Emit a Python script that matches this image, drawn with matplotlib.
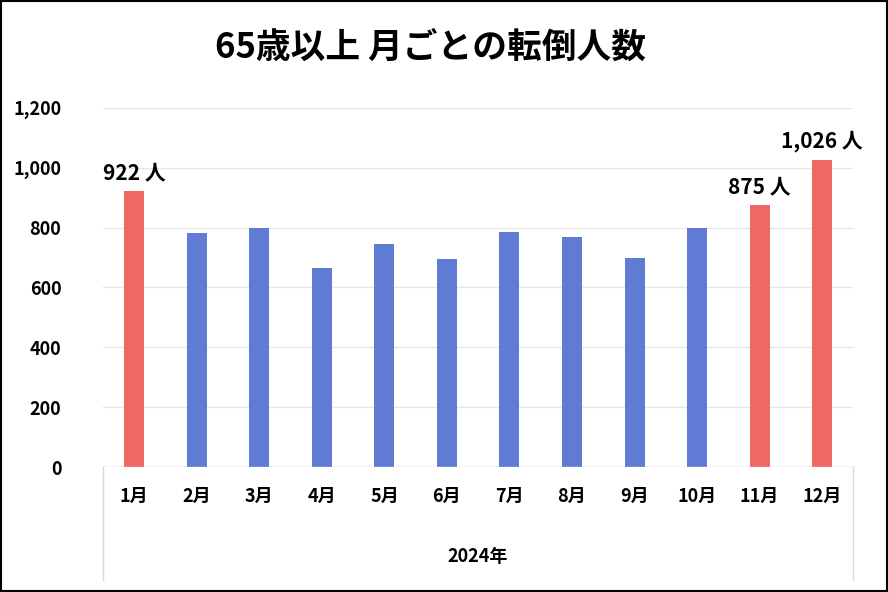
import matplotlib
matplotlib.use("Agg")
import matplotlib.pyplot as plt
from matplotlib.lines import Line2D
from matplotlib.patches import Rectangle

plt.rcParams['font.family'] = ['Noto Sans CJK JP', 'DejaVu Sans']

months = ['1月','2月','3月','4月','5月','6月','7月','8月','9月','10月','11月','12月']
values = [922, 783, 800, 665, 745, 695, 786, 770, 698, 800, 875, 1026]
highlight = [True, False, False, False, False, False, False, False, False, False, True, True]
xlabel = '2024年'
title = '65歳以上 月ごとの転倒人数'

blue = '#5F7BD3'
red = '#F06864'

fig = plt.figure(figsize=(8.88, 5.92), dpi=100)
ax = fig.add_axes([0.116, 0.211, 0.845, 0.607])
x = range(len(months))
colors = [red if h else blue for h in highlight]
ax.bar(x, values, width=0.32, color=colors, zorder=3)
ax.set_xlim(-0.5, len(months) - 0.5)
ax.set_ylim(0, 1200)
ax.set_yticks(range(0, 1201, 200))
ax.set_yticklabels([f'{v:,}' for v in range(0, 1201, 200)], fontsize=13, fontweight='bold')
ax.grid(axis='y', color='#E6E6E6', lw=1, zorder=0)
for s in ['top', 'right', 'left', 'bottom']:
    ax.spines[s].set_visible(False)
ax.axhline(0, color='#D9D9D9', lw=1, zorder=4)
ax.tick_params(axis='y', length=0, pad=30)
ax.set_xticks(list(x))
ax.set_xticklabels(months, fontsize=13, fontweight='bold')
ax.tick_params(axis='x', length=0, pad=14)
for i, (v, h) in enumerate(zip(values, highlight)):
    if h:
        ax.text(i, v + 25, f'{v:,} 人', ha='center', va='bottom', fontsize=15, fontweight='bold')

for xf in [103/888, 853/888]:
    fig.add_artist(Line2D([xf, xf], [125/592, 12/592], color='#D9D9D9', lw=1))
fig.text(478/888, 1 - 557/592, xlabel, ha='center', va='center', fontsize=13, fontweight='bold')
fig.text(430/888, 1 - 47/592, title, ha='center', va='center', fontsize=25, fontweight='bold')
fig.add_artist(Rectangle((0.001, 0.001), 0.998, 0.998, transform=fig.transFigure, fill=False, ec='black', lw=1.5))
fig.savefig('out.png', dpi=100)
